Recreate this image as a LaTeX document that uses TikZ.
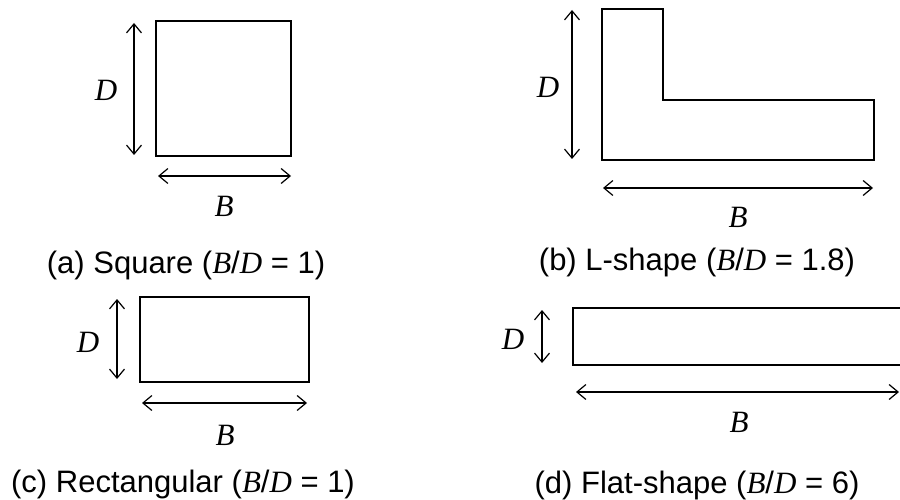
\documentclass[tikz,border=0pt]{standalone}
\usepackage{fontspec}
\setmainfont{Liberation Sans}
\newfontfamily\tnr{Liberation Serif}
\usetikzlibrary{arrows.meta}
\newcommand\vB{{\tnr\itshape B}}
\newcommand\vD{{\tnr\itshape D}}
\tikzset{
  shapeline/.style={draw=black,line width=1.5pt},
  dimarrow/.style={line width=1.2pt,{Straight Barb[length=9pt,width=15pt]}-{Straight Barb[length=9pt,width=15pt]}},
  lbl/.style={inner sep=0pt,font=\fontsize{31}{36}\selectfont},
  captext/.style={inner sep=0pt,anchor=base,font=\fontsize{31}{36}\selectfont},
}
\begin{document}
\begin{tikzpicture}[x=1pt,y=-1pt]
\useasboundingbox (0,0) rectangle (900,500);
% (a) square
\draw[shapeline] (156,21) rectangle (291,156);
\coordinate (aD1) at (134,23); \coordinate (aD2) at (134,155);
\coordinate (aB1) at (158,176); \coordinate (aB2) at (291,176);
\draw[dimarrow] (aD1) -- (aD2);
\draw[dimarrow] (aB1) -- (aB2);
\node[lbl] (aDl) at (106,90) {\vD};
\node[lbl] (aBl) at (224,206) {\vB};
\node[captext] (acap) at (186,273) {(a) Square (\vB/\vD{} = 1)};
% (b) L-shape
\draw[shapeline] (602,9) -- (663,9) -- (663,100) -- (874,100) -- (874,160) -- (602,160) -- cycle;
\coordinate (bD1) at (572,10); \coordinate (bD2) at (572,159);
\coordinate (bB1) at (603,188); \coordinate (bB2) at (873,188);
\draw[dimarrow] (bD1) -- (bD2);
\draw[dimarrow] (bB1) -- (bB2);
\node[lbl] (bDl) at (548,87) {\vD};
\node[lbl] (bBl) at (738,217) {\vB};
\node[captext] (bcap) at (697,270) {(b) L-shape (\vB/\vD{} = 1.8)};
% (c) rectangular
\draw[shapeline] (140,297) rectangle (309,382);
\coordinate (cD1) at (117,299); \coordinate (cD2) at (117,379);
\coordinate (cB1) at (142,403); \coordinate (cB2) at (307,403);
\draw[dimarrow] (cD1) -- (cD2);
\draw[dimarrow] (cB1) -- (cB2);
\node[lbl] (cDl) at (88,342) {\vD};
\node[lbl] (cBl) at (225,435) {\vB};
\node[captext] (ccap) at (183,492) {(c) Rectangular (\vB/\vD{} = 1)};
% (d) flat-shape
\draw[shapeline] (573,308) rectangle (910,365);
\coordinate (dD1) at (542,310); \coordinate (dD2) at (542,363);
\coordinate (dB1) at (576,392); \coordinate (dB2) at (899,392);
\draw[dimarrow] (dD1) -- (dD2);
\draw[dimarrow] (dB1) -- (dB2);
\node[lbl] (dDl) at (513,339) {\vD};
\node[lbl] (dBl) at (739,422) {\vB};
\node[captext] (dcap) at (697,493) {(d) Flat-shape (\vB/\vD{} = 6)};
\end{tikzpicture}
\end{document}
